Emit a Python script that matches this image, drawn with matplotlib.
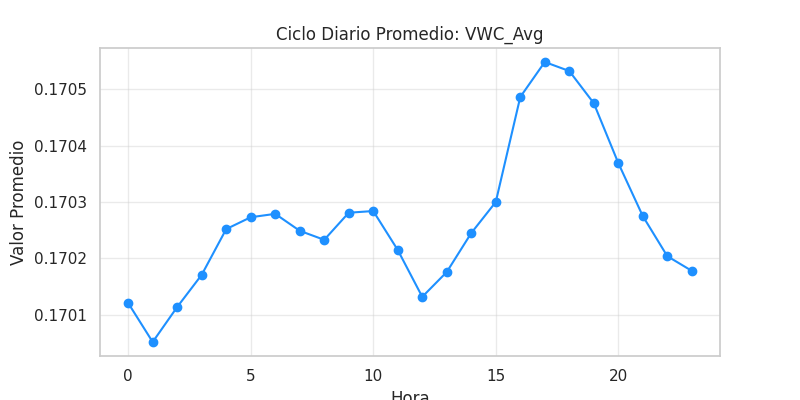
import matplotlib
matplotlib.use("Agg")
import matplotlib.pyplot as plt
import seaborn as sns

sns.set_theme(style="whitegrid")

horas = list(range(24))
vwc_avg = [0.170121, 0.170052, 0.170114, 0.170171, 0.170252, 0.170273,
           0.170279, 0.170249, 0.170233, 0.170281, 0.170284, 0.170215,
           0.170132, 0.170176, 0.170245, 0.170300, 0.170486, 0.170548,
           0.170532, 0.170475, 0.170369, 0.170275, 0.170204, 0.170178]

fig, ax = plt.subplots(figsize=(8, 4), dpi=100)
ax.plot(horas, vwc_avg, marker="o", color="dodgerblue")
ax.set_title("Ciclo Diario Promedio: VWC_Avg")
ax.set_xlabel("Hora")
ax.set_ylabel("Valor Promedio")
ax.ticklabel_format(axis="y", useOffset=False, style="plain")
ax.grid(True, alpha=0.4)
for s in ax.spines.values():
    s.set_color("#cccccc")
fig.savefig("out.png")
